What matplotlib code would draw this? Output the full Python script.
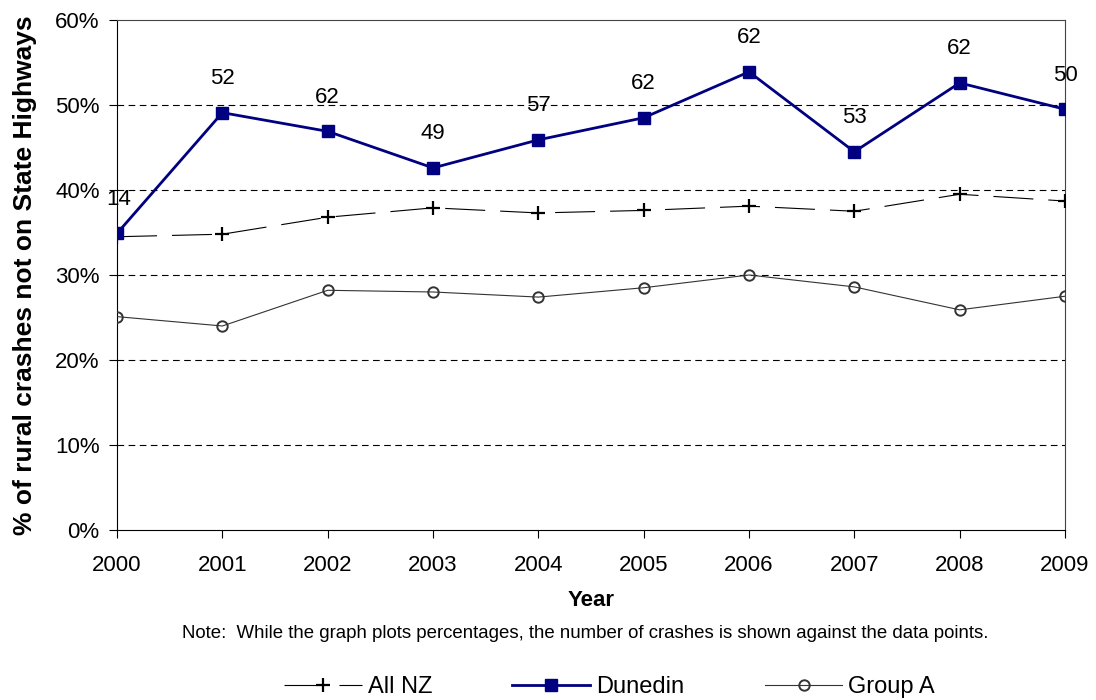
import matplotlib
matplotlib.use("Agg")
import matplotlib.pyplot as plt
from matplotlib.ticker import PercentFormatter

plt.rcParams['font.family'] = ['Liberation Sans', 'DejaVu Sans']

years = [2000, 2001, 2002, 2003, 2004, 2005, 2006, 2007, 2008, 2009]
all_nz = [34.5, 34.8, 36.8, 37.9, 37.3, 37.6, 38.1, 37.5, 39.5, 38.7]
dunedin = [34.9, 49.1, 46.9, 42.6, 45.9, 48.5, 53.9, 44.5, 52.6, 49.5]
group_a = [25.1, 24.0, 28.2, 28.0, 27.4, 28.5, 30.0, 28.6, 25.9, 27.5]
crash_counts = [14, 52, 62, 49, 57, 62, 62, 53, 62, 50]

fig = plt.figure(figsize=(10.96, 7.0), dpi=100)
ax = fig.add_axes([0.1068, 0.2429, 0.8649, 0.7285])

for yv in [10, 20, 30, 40, 50]:
    ax.axhline(yv, color='black', lw=0.8, ls=(0, (6, 4)), zorder=1)

l1, = ax.plot(years, all_nz, color='black', lw=0.8, dashes=(36, 13.5),
              marker='+', markersize=9.5, markeredgewidth=1.6, label='All NZ', zorder=3)
l2, = ax.plot(years, dunedin, color='#000080', lw=2, marker='s', markersize=9,
              label='Dunedin', zorder=4)
l3, = ax.plot(years, group_a, color='#333333', lw=0.8, marker='o', markersize=7.5,
              markerfacecolor='none', markeredgecolor='#333333', markeredgewidth=1.4,
              label='Group A', zorder=3)

for i, (x, y, n) in enumerate(zip(years, dunedin, crash_counts)):
    ax.annotate(str(n), (x, y), xytext=((1.5 if i == 0 else 0), 24.5),
                textcoords='offset points', ha='center', va='center', fontsize=16,
                zorder=5)

ax.set_xlim(2000, 2009)
ax.set_ylim(0, 60)
ax.set_xticks(years)
ax.set_yticks(range(0, 61, 10))
ax.yaxis.set_major_formatter(PercentFormatter(decimals=0))
ax.tick_params(labelsize=16, direction='out', length=6, width=0.8)
ax.tick_params(axis='x', pad=12)
ax.tick_params(axis='y', pad=6.5)
for s in ['top', 'right']:
    ax.spines[s].set_color('#444444')
    ax.spines[s].set_linewidth(0.8)
for s in ['left', 'bottom']:
    ax.spines[s].set_linewidth(0.8)

ax.set_xlabel('Year', fontsize=16, fontweight='bold', labelpad=10)
ax.set_ylabel('% of rural crashes not on State Highways', fontsize=19,
              fontweight='bold', labelpad=13)

fig.text(0.534, 1 - 634 / 700, 'Note:  While the graph plots percentages, the number of crashes is shown against the data points.',
         ha='center', va='center', fontsize=13.4)

fig.legend(handles=[l1, l2, l3], loc='center', bbox_to_anchor=(0.556, 1 - 687 / 700),
           ncol=3, frameon=False, fontsize=17, handlelength=3.3, columnspacing=3.4,
           handletextpad=0.25, borderpad=0, borderaxespad=0)

fig.savefig('out.png', dpi=100)
